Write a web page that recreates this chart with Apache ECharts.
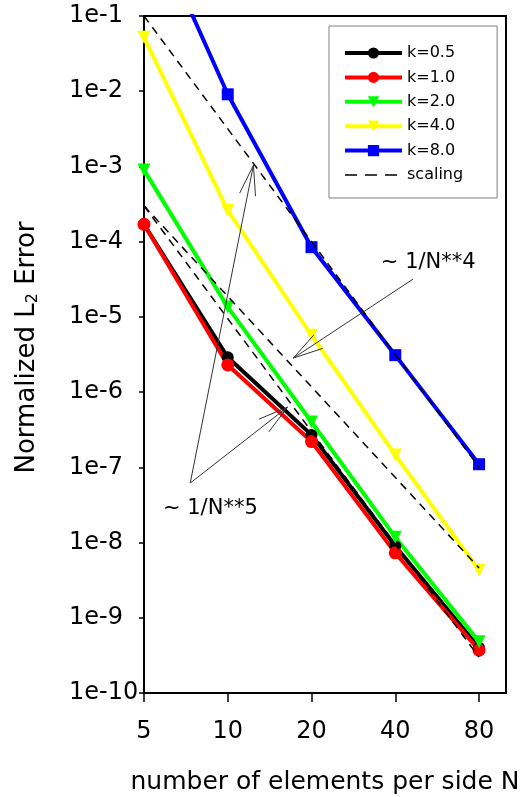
<!DOCTYPE html>
<html>
<head>
<meta charset="utf-8">
<script src="https://cdn.jsdelivr.net/npm/echarts@6/dist/echarts.min.js"></script>
<style>
html,body{margin:0;padding:0;background:#fff;}
#chart{width:520px;height:797px;}
</style>
</head>
<body>
<div id="chart"></div>
<script>
// ---- data ----
const nValues = [5, 10, 20, 40, 80];
const k05 = [1.7e-4, 2.9e-6, 2.7e-7, 9.0e-9, 4.0e-10];
const k10 = [1.7e-4, 2.3e-6, 2.2e-7, 7.3e-9, 3.7e-10];
const k20 = [9.0e-4, 1.35e-5, 4.0e-7, 1.18e-8, 4.8e-10];
const k40 = [5.2e-2, 2.6e-4, 5.7e-6, 1.46e-7, 4.3e-9];
const k80 = [2.8, 9.1e-3, 8.45e-5, 3.1e-6, 1.1e-7];
const scalingN = [5, 80];
const scaleA = [1.0e-1, 1.0e-7];   // ~1/N**5 (upper)
const scaleB = [3.0e-4, 4.6e-9];   // ~1/N**4
const scaleC = [3.0e-4, 3.0e-10];  // ~1/N**5 (lower)
const xTicks = [5, 10, 20, 40, 80];
const yTicks = [1e-10, 1e-9, 1e-8, 1e-7, 1e-6, 1e-5, 1e-4, 1e-3, 1e-2, 1e-1];
const seriesNames = ['k=0.5', 'k=1.0', 'k=2.0', 'k=4.0', 'k=8.0'];
// annotations (data coordinates)
const annoTexts = [
  { text: '~ 1/N**4', at: [35.5, 5.33e-5] },
  { text: '~ 1/N**5', at: [5.85, 2.79e-8] }
];
const annoArrows = [
  { tail: [46.3, 3.17e-5], tip: [17.2, 2.83e-6] },
  { tail: [7.33, 6.18e-8], tip: [16.4, 6.32e-7] },
  { tail: [7.33, 6.18e-8], tip: [12.37, 1.04e-3] }
];

const FONT = 'DejaVu Sans';
const pair = (xs, ys) => xs.map((x, i) => [x, ys[i]]);

function dataSeries(name, vals, color, symbol, size, rot) {
  return {
    name: name, type: 'line', data: pair(nValues, vals),
    symbol: symbol, symbolSize: size, symbolRotate: rot || 0,
    showSymbol: true, clip: true,
    lineStyle: { color: color, width: 4 },
    itemStyle: { color: color },
    emphasis: { disabled: true }, animation: false
  };
}
function scalingSeries(vals) {
  return {
    name: 'scaling', type: 'line', data: pair(scalingN, vals),
    symbol: 'none', clip: true,
    lineStyle: { color: '#000', width: 1.5, type: [8, 6] },
    itemStyle: { color: '#000' },
    emphasis: { disabled: true }, animation: false, z: 5
  };
}

const chart = echarts.init(document.getElementById('chart'), null, { renderer: 'canvas' });
const legendData = seriesNames.map(n => ({ name: n }));
legendData.push({ name: 'scaling', itemStyle: { color: 'rgba(0,0,0,0)', borderWidth: 0, opacity: 0 },
  lineStyle: { width: 1.5, type: [12, 8] } });

const option = {
  animation: false,
  backgroundColor: '#fff',
  textStyle: { fontFamily: FONT },
  grid: { left: 144, right: 14, top: 16, bottom: 104, outerBoundsMode: 'none', containLabel: false,
    show: true, borderColor: '#000', borderWidth: 2, backgroundColor: 'transparent' },
  legend: {
    orient: 'vertical', left: 329, top: 26,
    padding: [19, 34, 15, 14], itemGap: 8.4, itemWidth: 57, itemHeight: 14,
    borderColor: '#808080', borderWidth: 1, backgroundColor: '#fff',
    lineStyle: { width: 4 },
    textStyle: { fontFamily: FONT, fontSize: 16, color: '#000' },
    data: legendData
  },
  xAxis: {
    type: 'log', logBase: 2, min: 5, max: 100,
    name: 'number of elements per side N', nameLocation: 'middle', nameGap: 77,
    nameTextStyle: { fontFamily: FONT, fontSize: 25, color: '#000' },
    axisLine: { show: true, lineStyle: { color: '#000', width: 2 } },
    axisTick: { show: true, inside: false, length: 9, customValues: xTicks, lineStyle: { color: '#000', width: 1.5 } },
    axisLabel: { show: true, customValues: xTicks, margin: 27, fontFamily: FONT, fontSize: 24, color: '#000' },
    minorTick: { show: false }, splitLine: { show: false }
  },
  yAxis: {
    type: 'log', logBase: 10, min: 1e-10, max: 1e-1,
    name: 'Normalized L{sub|2} Error', nameLocation: 'middle', nameGap: 103,
    nameTextStyle: { fontFamily: FONT, fontSize: 26, color: '#000', padding: [0, 0, 0, 14],
      rich: { sub: { fontFamily: FONT, fontSize: 16, color: '#000', padding: [12, 0, 0, 0] } } },
    axisLine: { show: true, lineStyle: { color: '#000', width: 2 } },
    axisTick: { show: true, inside: false, length: 5, customValues: yTicks, lineStyle: { color: '#000', width: 1.5 } },
    axisLabel: { show: true, customValues: yTicks, margin: 75, align: 'left', fontFamily: FONT, fontSize: 24, color: '#000',
      formatter: v => '1e' + Math.round(Math.log10(v)) },
    minorTick: { show: false }, splitLine: { show: false }
  },
  series: [
    dataSeries('k=0.5', k05, '#000000', 'circle', 12),
    dataSeries('k=1.0', k10, '#ff0000', 'circle', 13),
    dataSeries('k=2.0', k20, '#00ff00', 'triangle', 13, 180),
    dataSeries('k=4.0', k40, '#ffff00', 'triangle', 13, 180),
    dataSeries('k=8.0', k80, '#0000ff', 'rect', 12),
    scalingSeries(scaleA),
    scalingSeries(scaleB),
    scalingSeries(scaleC)
  ]
};
chart.setOption(option);

// annotations via the chart's own coordinate conversion
const g = [];
annoTexts.forEach(t => {
  const p = chart.convertToPixel({ gridIndex: 0 }, t.at);
  g.push({ type: 'text', x: p[0], y: p[1], z: 20,
    style: { text: t.text, fontFamily: FONT, fontSize: 21, fill: '#000', align: 'left', verticalAlign: 'middle' } });
});
annoArrows.forEach(a => {
  const tl = chart.convertToPixel({ gridIndex: 0 }, a.tail);
  const tp = chart.convertToPixel({ gridIndex: 0 }, a.tip);
  const ang = Math.atan2(tl[1] - tp[1], tl[0] - tp[0]);
  const L = 31, h = 15 * Math.PI / 180;
  const b1 = [tp[0] + L * Math.cos(ang + h), tp[1] + L * Math.sin(ang + h)];
  const b2 = [tp[0] + L * Math.cos(ang - h), tp[1] + L * Math.sin(ang - h)];
  g.push({ type: 'polyline', z: 20, shape: { points: [tl, tp] }, style: { stroke: '#333', lineWidth: 1, fill: null } });
  g.push({ type: 'polyline', z: 20, shape: { points: [b1, tp, b2] }, style: { stroke: '#333', lineWidth: 1, fill: null } });
});
chart.setOption({ graphic: g });
</script>
</body>
</html>
